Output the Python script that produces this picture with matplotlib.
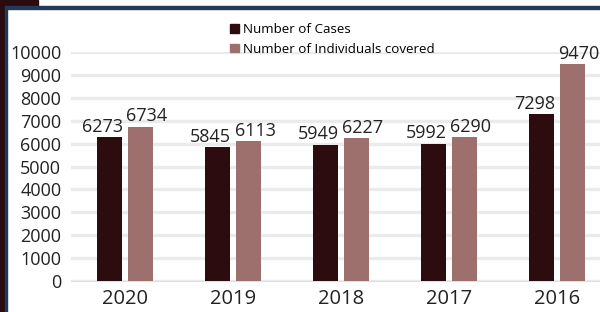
import matplotlib
matplotlib.use("Agg")
import matplotlib.pyplot as plt
import matplotlib.patches as mpatches
import numpy as np

years = ["2020", "2019", "2018", "2017", "2016"]
cases = [6273, 5845, 5949, 5992, 7298]
individuals = [6734, 6113, 6227, 6290, 9470]
series_names = ["Number of Cases", "Number of Individuals covered"]

dark = "#2d0c0f"
light = "#9d706e"

plt.rcParams['font.family'] = ['Open Sans', 'DejaVu Sans']

fig = plt.figure(figsize=(6, 3.12), dpi=100)

# frame decoration
fig.patches.append(mpatches.Rectangle((0, 0), 5/600, 1, transform=fig.transFigure, color="#2a0c10", zorder=0))
fig.patches.append(mpatches.Rectangle((0, 1-7/312), 38/600, 7/312, transform=fig.transFigure, color="#2a0c10", zorder=0))
fig.patches.append(mpatches.Rectangle((5/600, 1-9/312), 595/600, 3/312, transform=fig.transFigure, color="#22395a", zorder=0))
fig.patches.append(mpatches.Rectangle((5/600, 0), 2/600, 1-7/312, transform=fig.transFigure, color="#22395a", zorder=0))

ax = fig.add_axes([71/600, 31/312, 529/600, 229/312])

x = np.arange(len(years))
w = 0.23
b1 = ax.bar(x - 0.145, cases, w, color=dark, zorder=3)
b2 = ax.bar(x + 0.145, individuals, w, color=light, zorder=3)

for rect, v in zip(b1, cases):
    ax.text(rect.get_x() + rect.get_width()/2 - 0.06, v + 60, str(v), ha="center", va="bottom",
            fontsize=13, color="#222222")
for rect, v in zip(b2, individuals):
    ax.text(rect.get_x() + rect.get_width()/2 + 0.06, v + 60, str(v), ha="center", va="bottom",
            fontsize=13, color="#222222")

ax.set_ylim(0, 10000)
ax.set_xlim(-0.5, 4.4)
ax.set_yticks(np.arange(0, 10001, 1000))
ax.set_xticks(x)
ax.set_xticklabels(years, fontsize=14.5, color="#222222")
ax.tick_params(axis="y", labelsize=13, colors="#222222", length=0, pad=7)
ax.tick_params(axis="x", length=0, pad=6)
ax.grid(axis="y", color="#ebebeb", linewidth=2.4, zorder=0)
for s in ["top", "right", "left"]:
    ax.spines[s].set_visible(False)
ax.spines["bottom"].set_color("#e0e0e0")

handles = [mpatches.Patch(color=dark), mpatches.Patch(color=light)]
fig.legend(handles, series_names, loc="upper left", bbox_to_anchor=(230/600, 1-23/312),
           frameon=False, fontsize=9.6, handlelength=0.65, handleheight=0.65,
           handletextpad=0.35, labelspacing=0.5, borderpad=0, borderaxespad=0)

fig.savefig("out.png", dpi=100, facecolor="white")
